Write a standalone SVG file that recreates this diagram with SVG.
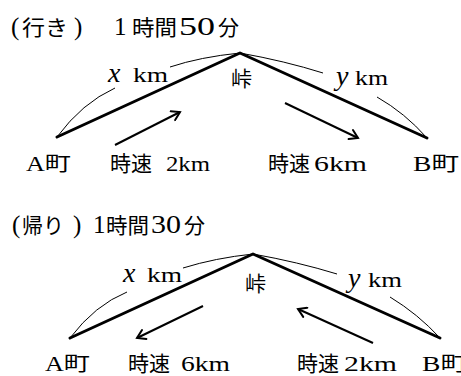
<svg xmlns="http://www.w3.org/2000/svg" width="461" height="376" viewBox="0 0 461 376">
<style>
.t{font-family:"Liberation Serif","Noto Sans CJK JP",serif;font-size:20px;fill:#000}
.h{font-family:"Noto Sans CJK JP",sans-serif;font-size:21px;fill:#000}
.l{font-family:"Liberation Serif",serif;font-size:22px;fill:#000}
.d{font-family:"Liberation Serif",serif;font-size:25px;fill:#000}
.m{font-family:"Liberation Serif",serif;font-style:italic;font-size:28px;fill:#000}
.road{fill:none;stroke:#000;stroke-width:3;stroke-linecap:round;stroke-linejoin:round}
.arc{fill:none;stroke:#000;stroke-width:1}
.arr{fill:none;stroke:#000;stroke-width:2;marker-end:url(#ah)}
</style>
<defs>
<marker id="ah" markerWidth="12" markerHeight="12" refX="10" refY="6" orient="auto" markerUnits="userSpaceOnUse">
<path d="M2,1 L10,6 L2,11" fill="none" stroke="#000" stroke-width="2" stroke-linecap="round"/>
</marker>
</defs>
<rect width="461" height="376" fill="#fff"/>
<g id="top">
<g id="title1">
<text class="d" x="11" y="35">(</text><text class="h" x="22" y="35" textLength="46" lengthAdjust="spacingAndGlyphs">行き</text><text class="d" x="74" y="35">)</text>
<text class="d" x="114" y="35">1</text><text class="h" x="132" y="35" textLength="45" lengthAdjust="spacingAndGlyphs">時間</text><text class="d" x="179" y="35" textLength="36" lengthAdjust="spacingAndGlyphs">50</text><text class="h" x="218" y="35">分</text>
</g>
<g id="A1"><text class="t" x="26" y="171" textLength="45" lengthAdjust="spacingAndGlyphs">A町</text></g>
<g id="B1"><text class="t" x="413" y="171" textLength="46" lengthAdjust="spacingAndGlyphs">B町</text></g>
<g id="toge1"><text class="h" x="231" y="86">峠</text></g>
<g id="xkm1"><text class="m" x="108" y="82">x</text><text class="l" x="133" y="82" textLength="35" lengthAdjust="spacingAndGlyphs">km</text></g>
<g id="ykm1"><text class="m" x="336" y="85">y</text><text class="l" x="355" y="85" textLength="33" lengthAdjust="spacingAndGlyphs">km</text></g>
<g id="v1"><text class="h" x="110" y="171" textLength="42" lengthAdjust="spacingAndGlyphs">時速</text><text class="l" x="166" y="171" textLength="44" lengthAdjust="spacingAndGlyphs">2km</text></g>
<g id="v2"><text class="h" x="268" y="171" textLength="42" lengthAdjust="spacingAndGlyphs">時速</text><text class="l" x="314" y="171" textLength="53" lengthAdjust="spacingAndGlyphs">6km</text></g>
</g>
<g id="bottom">
<g id="title2">
<text class="d" x="12" y="233">(</text><text class="h" x="22" y="233" textLength="42" lengthAdjust="spacingAndGlyphs">帰り</text><text class="d" x="73" y="233">)</text>
<text class="d" x="93" y="233">1</text><text class="h" x="106" y="233" textLength="43" lengthAdjust="spacingAndGlyphs">時間</text><text class="d" x="151" y="233" textLength="30" lengthAdjust="spacingAndGlyphs">30</text><text class="h" x="184" y="233">分</text>
</g>
<g id="A2"><text class="t" x="45" y="371" textLength="45" lengthAdjust="spacingAndGlyphs">A町</text></g>
<g id="B2"><text class="t" x="422" y="371" textLength="46" lengthAdjust="spacingAndGlyphs">B町</text></g>
<g id="toge2"><text class="h" x="245" y="291">峠</text></g>
<g id="xkm2"><text class="m" x="123" y="282">x</text><text class="l" x="147" y="282" textLength="35" lengthAdjust="spacingAndGlyphs">km</text></g>
<g id="ykm2"><text class="m" x="348" y="287">y</text><text class="l" x="368" y="287" textLength="34" lengthAdjust="spacingAndGlyphs">km</text></g>
<g id="v3"><text class="h" x="128" y="371" textLength="42" lengthAdjust="spacingAndGlyphs">時速</text><text class="l" x="181" y="371" textLength="49" lengthAdjust="spacingAndGlyphs">6km</text></g>
<g id="v4"><text class="h" x="297" y="371" textLength="42" lengthAdjust="spacingAndGlyphs">時速</text><text class="l" x="344" y="371" textLength="53" lengthAdjust="spacingAndGlyphs">2km</text></g>
</g>
<g id="connectors">
<path class="road" d="M57,137 L240,53 L427,138"/>
<path class="arc" d="M57,137 Q82,103 115,88"/>
<path class="arc" d="M170,67 Q200,57 240,53"/>
<path class="arc" d="M240,53 Q285,61 323,73"/>
<path class="arc" d="M377,97 Q405,113 427,138"/>
<path class="arr" d="M115,145 L180,112"/>
<path class="arr" d="M285,103 L358,138"/>
<path class="road" d="M70,338 L253,254 L440,338"/>
<path class="arc" d="M70,338 Q95,305 127,292"/>
<path class="arc" d="M183,268 Q215,258 253,254"/>
<path class="arc" d="M253,254 Q298,262 337,274"/>
<path class="arc" d="M390,297 Q418,314 440,338"/>
<path class="arr" d="M203,306 L137,338"/>
<path class="arr" d="M373,343 L298,309"/>
</g>
</svg>
